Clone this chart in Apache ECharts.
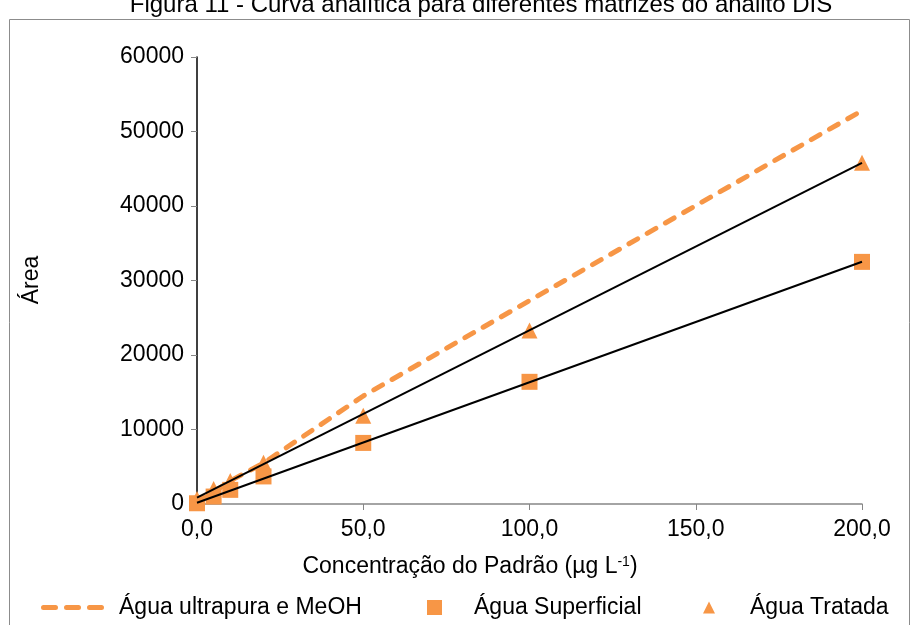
<!DOCTYPE html>
<html>
<head>
<meta charset="utf-8">
<script src="https://cdn.jsdelivr.net/npm/echarts@6/dist/echarts.min.js"></script>
<style>
  html, body { margin: 0; padding: 0; background: #fff; }
  #chart { width: 912px; height: 625px; }
</style>
</head>
<body>
<div id="chart"></div>
<script>
// Concentrations of the standard (µg L-1)
const conc = [0, 5, 10, 20, 50, 100, 200];
// Peak areas per matrix
const areaUltrapura = [150, 1600, 3100, 5500, 14500, 27300, 52800];
const areaSuperficial = [100, 1000, 1900, 3700, 8200, 16400, 32500];
const areaTratada = [670, 2000, 3100, 5550, 11850, 23300, 45800];
// Linear trend lines (end points at 0 and 200 µg L-1)
const trendSuperficialX = [0, 200];
const trendSuperficialY = [170, 32520];
const trendTratadaX = [0, 200];
const trendTratadaY = [850, 45800];
// Axis ticks
const xTicks = { min: 0, max: 200, step: 50 };
const yTicks = { min: 0, max: 60000, step: 10000 };

const names = ['Água ultrapura e MeOH', 'Água Superficial', 'Água Tratada'];
const orange = '#F79646';
const font = "'Liberation Sans', Arial, sans-serif";
const fs = 23;

// three rounded dashes used as the legend icon of the dashed series
const dashIcon = 'path://' +
  'M2.5,0h12a2.5,2.5 0 0 1 0,5h-12a2.5,2.5 0 0 1 0,-5z' +
  'M25.5,0h12a2.5,2.5 0 0 1 0,5h-12a2.5,2.5 0 0 1 0,-5z' +
  'M48.5,0h12a2.5,2.5 0 0 1 0,5h-12a2.5,2.5 0 0 1 0,-5z';

const pairs = (xs, ys) => xs.map((x, i) => [x, ys[i]]);

const chart = echarts.init(document.getElementById('chart'), null, { renderer: 'canvas' });

const legendText = pad => ({ fontFamily: font, fontSize: fs, color: '#000', padding: [0, 0, 0, pad] });

chart.setOption({
  animation: false,
  backgroundColor: '#fff',
  textStyle: { fontFamily: font },
  grid: { left: 197, right: 50, top: 57, bottom: 121, containLabel: false },
  xAxis: {
    type: 'value',
    min: xTicks.min, max: xTicks.max, interval: xTicks.step,
    axisLine: { show: true, lineStyle: { color: '#868686', width: 1.5 } },
    axisTick: { show: true, length: 6, lineStyle: { color: '#868686' } },
    splitLine: { show: false },
    axisLabel: {
      margin: 14, fontSize: fs, color: '#000', fontFamily: font,
      formatter: v => v.toFixed(1).replace('.', ',')
    }
  },
  yAxis: {
    type: 'value',
    min: yTicks.min, max: yTicks.max, interval: yTicks.step,
    axisLine: { show: true, lineStyle: { color: '#000', width: 1.5 } },
    axisTick: { show: true, length: 6, lineStyle: { color: '#868686' } },
    splitLine: { show: false },
    axisLabel: {
      margin: 13, fontSize: fs, color: '#000', fontFamily: font,
      formatter: v => String(v)
    }
  },
  legend: [
    {
      top: 596, left: 41, padding: 0, itemWidth: 63, itemHeight: 5,
      data: [{ name: names[0], icon: dashIcon }],
      textStyle: legendText(10)
    },
    {
      top: 596, left: 427, padding: 0, itemWidth: 15, itemHeight: 15,
      data: [names[1]],
      textStyle: legendText(27)
    },
    {
      top: 596, left: 703, padding: 0, itemWidth: 12, itemHeight: 12,
      data: [names[2]],
      textStyle: legendText(30)
    }
  ],
  graphic: [
    {
      type: 'rect', silent: true, z: -1,
      shape: { x: 9.5, y: 19.5, width: 900, height: 620 },
      style: { fill: 'none', stroke: '#8c8c8c', lineWidth: 1 }
    },
    {
      type: 'text', silent: true,
      x: 481, y: 17,
      style: {
        text: 'Figura 11 - Curva analítica para diferentes matrizes do analito DIS',
        font: '24px ' + font, fill: '#000',
        align: 'center', verticalAlign: 'bottom'
      }
    },
    {
      type: 'text', silent: true,
      x: 32, y: 280, rotation: Math.PI / 2,
      style: {
        text: 'Área', font: fs + 'px ' + font, fill: '#000',
        align: 'center', verticalAlign: 'middle'
      }
    },
    {
      type: 'text', silent: true,
      x: 470, y: 567,
      style: {
        text: '{a|Concentração do Padrão (µg L}{s|-1}{a|)}',
        align: 'center', verticalAlign: 'middle',
        rich: {
          a: { fontSize: fs, fontFamily: font, fill: '#000' },
          s: { fontSize: 14, fontFamily: font, fill: '#000', verticalAlign: 'top', padding: [0, 0, 10, 0] }
        }
      }
    }
  ],
  series: [
    {
      name: names[0], type: 'line',
      data: pairs(conc, areaUltrapura),
      symbol: 'none', showSymbol: false,
      lineStyle: { color: orange, width: 5, type: [10, 11], cap: 'round' },
      itemStyle: { color: orange, opacity: 1 },
      z: 2
    },
    {
      name: names[1], type: 'scatter',
      data: pairs(conc, areaSuperficial),
      symbol: 'rect', symbolSize: 16,
      itemStyle: { color: orange, opacity: 1 },
      z: 3
    },
    {
      name: names[2], type: 'scatter',
      data: pairs(conc, areaTratada),
      symbol: 'triangle', symbolSize: 16,
      itemStyle: { color: orange, opacity: 1 },
      z: 3
    },
    {
      name: 'trend-superficial', type: 'line',
      data: pairs(trendSuperficialX, trendSuperficialY),
      symbol: 'none', lineStyle: { color: '#000', width: 2 },
      z: 4
    },
    {
      name: 'trend-tratada', type: 'line',
      data: pairs(trendTratadaX, trendTratadaY),
      symbol: 'none', lineStyle: { color: '#000', width: 2 },
      z: 4
    }
  ]
});
</script>
</body>
</html>
